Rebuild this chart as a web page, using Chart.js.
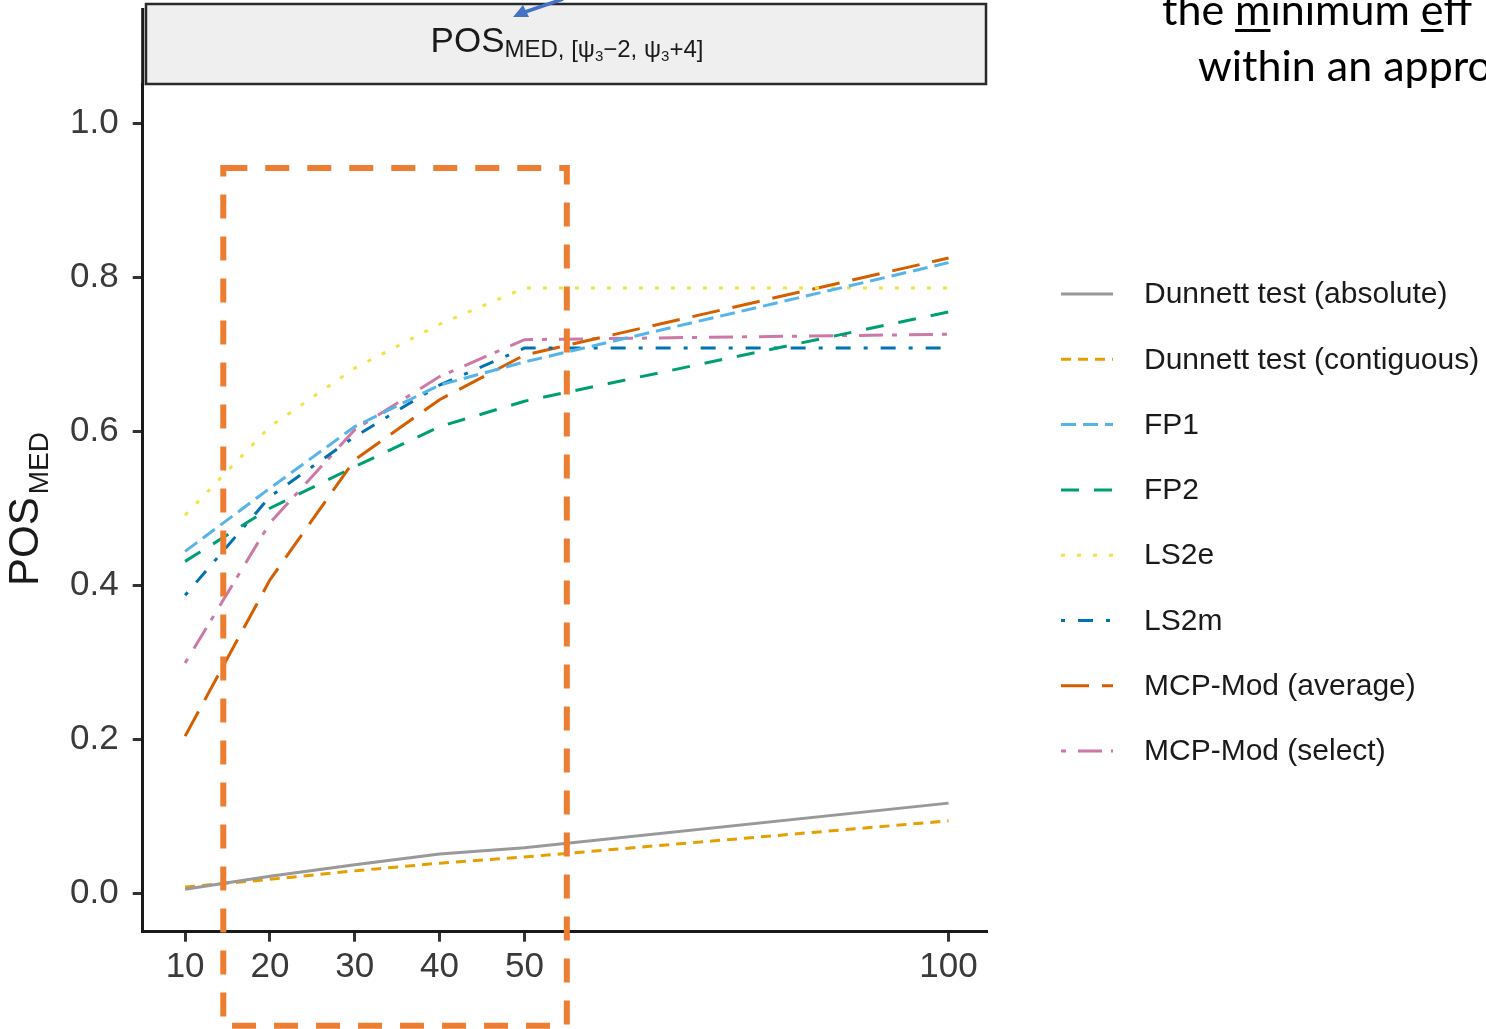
<!DOCTYPE html>
<html><head><meta charset="utf-8">
<script src="https://cdn.jsdelivr.net/npm/chart.js@4.4.1/dist/chart.umd.min.js"></script>
<style>html,body{margin:0;padding:0;background:#fff;overflow:hidden}canvas{display:block}</style>
</head><body>
<canvas id="c" width="1486" height="1029"></canvas>
<script>
// ---- data ----
const sampleSizes = [10, 20, 30, 40, 50, 100];
const xTickValues = [10, 20, 30, 40, 50, 100];
const yTickValues = [0, 0.2, 0.4, 0.6, 0.8, 1.0];
const seriesLabels = ['Dunnett test (absolute)', 'Dunnett test (contiguous)', 'FP1', 'FP2', 'LS2e', 'LS2m', 'MCP-Mod (average)', 'MCP-Mod (select)'];
const dunnettAbsolute   = [0.005, 0.022, 0.037, 0.051, 0.059, 0.117];
const dunnettContiguous = [0.008, 0.018, 0.029, 0.039, 0.047, 0.094];
const fp1               = [0.444, 0.526, 0.606, 0.660, 0.690, 0.819];
const fp2               = [0.431, 0.500, 0.554, 0.606, 0.639, 0.755];
const ls2e              = [0.491, 0.606, 0.682, 0.739, 0.786, 0.786];
const ls2m              = [0.387, 0.515, 0.593, 0.660, 0.708, 0.708];
const mcpAverage        = [0.204, 0.407, 0.563, 0.641, 0.699, 0.825];
const mcpSelect         = [0.299, 0.481, 0.602, 0.671, 0.719, 0.726];
// annotation box (data units)
const boxX = [14.5, 55];
const boxY = [-0.172, 0.942];

const seriesValues = [dunnettAbsolute, dunnettContiguous, fp1, fp2, ls2e, ls2m, mcpAverage, mcpSelect];
const seriesColors = ['#999999', '#E69F00', '#56B4E9', '#009E73', '#F0E442', '#0072B2', '#D55E00', '#CC79A7'];
const seriesDashes = [[], [10, 7], [15, 7], [18, 15], [4, 12], [4, 13, 15, 13], [28, 13], [5, 12, 24, 9]];

const datasets = seriesLabels.map((lab, i) => ({
  label: lab,
  data: sampleSizes.map((x, j) => ({x: x, y: seriesValues[i][j]})),
  borderColor: seriesColors[i],
  backgroundColor: seriesColors[i],
  borderDash: seriesDashes[i],
  borderWidth: 3,
  pointRadius: 0,
  pointHoverRadius: 0,
  tension: 0,
  fill: false
}));

const FONT = '"Liberation Sans", Arial, sans-serif';

const overlay = {
  id: 'overlay',
  afterDraw(chart) {
    const {ctx, chartArea: ca} = chart;
    const sx = chart.scales.x, sy = chart.scales.y;
    ctx.save();
    // facet strip
    ctx.fillStyle = '#efefef';
    ctx.fillRect(146, 4, 840, 80);
    ctx.strokeStyle = '#2a2a2a';
    ctx.lineWidth = 2.5;
    ctx.strokeRect(146, 4, 840, 80);
    // axis extension
    ctx.beginPath();
    ctx.moveTo(ca.left, 8); ctx.lineTo(ca.left, ca.top + 1);
    ctx.lineWidth = 3; ctx.strokeStyle = '#1a1a1a'; ctx.stroke();
    // strip title with subscripts
    const parts = [['POS', 35, 0], ['MED, [ψ', 24, 5], ['3', 15, 9], ['−2, ψ', 24, 5], ['3', 15, 9], ['+4]', 24, 5]];
    let total = 0;
    parts.forEach(p => { ctx.font = p[1] + 'px ' + FONT; total += ctx.measureText(p[0]).width; });
    let cx = 567 - total / 2;
    ctx.fillStyle = '#1a1a1a';
    ctx.textBaseline = 'alphabetic';
    ctx.textAlign = 'left';
    parts.forEach(p => { ctx.font = p[1] + 'px ' + FONT; ctx.fillText(p[0], cx, 52 + p[2]); cx += ctx.measureText(p[0]).width; });
    // y axis title
    ctx.save();
    ctx.translate(38, 0);
    ctx.rotate(-Math.PI / 2);
    ctx.font = '42px ' + FONT;
    const wPOS = ctx.measureText('POS').width;
    ctx.font = '28px ' + FONT;
    const wMED = ctx.measureText('MED').width;
    const start = -(509 + (wPOS + 3 + wMED) / 2);
    ctx.font = '42px ' + FONT;
    ctx.fillText('POS', start, 0);
    ctx.font = '28px ' + FONT;
    ctx.fillText('MED', start + wPOS + 3, 10);
    ctx.restore();
    // legend
    chart.data.datasets.forEach((ds, i) => {
      const yy = 294 + i * 65.3;
      ctx.beginPath();
      ctx.setLineDash(ds.borderDash || []);
      ctx.strokeStyle = ds.borderColor;
      ctx.lineWidth = 3;
      ctx.moveTo(1061, yy); ctx.lineTo(1113, yy);
      ctx.stroke();
      ctx.setLineDash([]);
      ctx.font = '30px ' + FONT;
      ctx.fillStyle = '#1a1a1a';
      ctx.textBaseline = 'middle';
      ctx.fillText(ds.label, 1144, yy + 1);
    });
    // annotation box
    const x1 = sx.getPixelForValue(boxX[0]), x2 = sx.getPixelForValue(boxX[1]);
    const y1 = sy.getPixelForValue(boxY[1]), y2 = sy.getPixelForValue(boxY[0]);
    ctx.beginPath();
    ctx.setLineDash([24, 18]);
    ctx.strokeStyle = '#ED7D31';
    ctx.lineWidth = 6;
    ctx.moveTo(x1, y1); ctx.lineTo(x2, y1); ctx.lineTo(x2, y2); ctx.lineTo(x1, y2); ctx.closePath();
    ctx.stroke();
    ctx.setLineDash([]);
    // blue arrow
    ctx.strokeStyle = '#4472C4'; ctx.fillStyle = '#4472C4'; ctx.lineWidth = 3.5;
    ctx.beginPath(); ctx.moveTo(563, -1); ctx.lineTo(525, 12); ctx.stroke();
    ctx.beginPath(); ctx.moveTo(513, 17); ctx.lineTo(523, 5); ctx.lineTo(529, 17); ctx.closePath(); ctx.fill();
    // slide text
    ctx.fillStyle = '#000';
    ctx.textBaseline = 'alphabetic';
    ctx.font = '43px Lato, "Open Sans", sans-serif';
    const l1 = ['the ', 'm', 'inimum ', 'e', 'ff'];
    let tx = 1162;
    l1.forEach((s, k) => {
      const w = ctx.measureText(s).width;
      ctx.fillText(s, tx, 25);
      if (k === 1 || k === 3) ctx.fillRect(tx, 29, w, 3);
      tx += w;
    });
    ctx.fillText('within an appro', 1198, 81);
    ctx.restore();
  }
};

new Chart(document.getElementById('c'), {
  type: 'line',
  data: {datasets: datasets},
  options: {
    responsive: false,
    animation: false,
    devicePixelRatio: 1,
    layout: {padding: {top: 84.8, right: 499.3, left: 0, bottom: 0}},
    plugins: {legend: {display: false}, tooltip: {enabled: false}, title: {display: false}},
    scales: {
      x: {
        type: 'linear', min: 5, max: 104.5,
        afterBuildTicks: s => { s.ticks = xTickValues.map(v => ({value: v})); },
        afterFit: s => { s.height = 97.3; },
        ticks: {font: {family: FONT, size: 35}, color: '#3a3a3a', padding: 5, autoSkip: false, maxRotation: 0, callback: v => String(v)},
        grid: {drawOnChartArea: false, drawTicks: true, tickLength: 10, lineWidth: 3, color: '#333333'},
        border: {display: true, width: 3, color: '#1a1a1a'}
      },
      y: {
        type: 'linear', min: -0.05, max: 1.05,
        afterBuildTicks: s => { s.ticks = yTickValues.map(v => ({value: v})); },
        afterFit: s => { s.width = 142.7; },
        ticks: {font: {family: FONT, size: 35}, color: '#3a3a3a', padding: 14, autoSkip: false, callback: v => v.toFixed(1)},
        grid: {drawOnChartArea: false, drawTicks: true, tickLength: 10, lineWidth: 3, color: '#333333'},
        border: {display: true, width: 3, color: '#1a1a1a'}
      }
    }
  },
  plugins: [overlay]
});
</script>
</body></html>
